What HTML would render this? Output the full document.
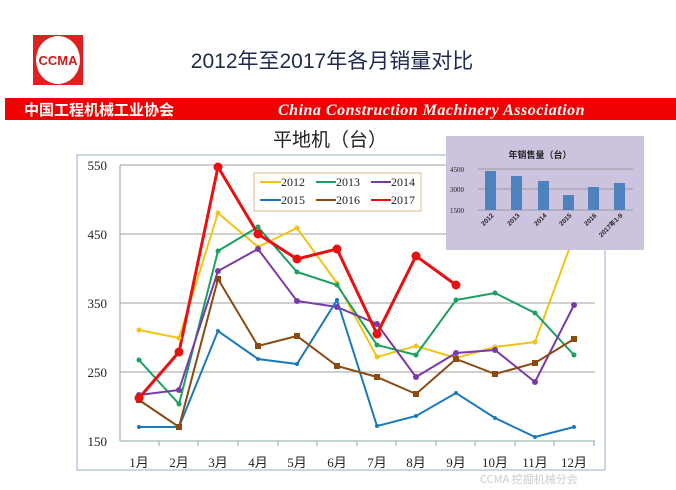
<!DOCTYPE html>
<html><head><meta charset="utf-8"><style>
body{margin:0;width:676px;height:485px;background:#fff;overflow:hidden}
</style></head><body>
<svg width="676" height="485" viewBox="0 0 676 485" xmlns="http://www.w3.org/2000/svg" font-family="Liberation Serif, Noto Serif CJK SC, serif">
<rect x="33" y="35" width="50" height="50" fill="#e02020"/>
<ellipse cx="58" cy="60" rx="22" ry="24" fill="#fff"/>
<text x="58" y="65" font-family="Liberation Sans, sans-serif" font-weight="bold" font-size="13" fill="#d01818" text-anchor="middle">CCMA</text>
<text x="332" y="68" font-family="Liberation Sans, Noto Sans CJK SC, sans-serif" font-size="21" fill="#1f2a50" text-anchor="middle">2012年至2017年各月销量对比</text>
<rect x="5" y="98" width="671" height="22" fill="#f00000"/>
<text x="24" y="115" font-family="Noto Sans CJK SC, sans-serif" font-weight="bold" font-size="15" fill="#fff">中国工程机械工业协会</text>
<text x="278" y="115" font-family="Liberation Serif, serif" font-style="italic" font-weight="bold" font-size="16" fill="#fff" letter-spacing="0.5">China Construction Machinery Association</text>
<text x="330" y="146" font-family="Noto Sans CJK SC, sans-serif" font-size="19" fill="#222" text-anchor="middle">平地机（台）</text>
<rect x="77" y="155" width="528" height="315" fill="#fff" stroke="#b8c8d8" stroke-width="1.5"/>
<g stroke="#a0a0a0" stroke-width="1">
<line x1="120" y1="165" x2="595" y2="165"/><line x1="120" y1="234" x2="595" y2="234"/><line x1="120" y1="303" x2="595" y2="303"/><line x1="120" y1="372" x2="595" y2="372"/>
</g>
<line x1="120" y1="441" x2="595" y2="441" stroke="#8aa" stroke-width="1"/>
<line x1="120" y1="165" x2="120" y2="441" stroke="#8aa" stroke-width="1"/>
<g stroke="#8aa"><line x1="159" y1="441" x2="159" y2="446"/><line x1="198" y1="441" x2="198" y2="446"/><line x1="238" y1="441" x2="238" y2="446"/><line x1="278" y1="441" x2="278" y2="446"/><line x1="317" y1="441" x2="317" y2="446"/><line x1="357" y1="441" x2="357" y2="446"/><line x1="396" y1="441" x2="396" y2="446"/><line x1="436" y1="441" x2="436" y2="446"/><line x1="475" y1="441" x2="475" y2="446"/><line x1="515" y1="441" x2="515" y2="446"/><line x1="554" y1="441" x2="554" y2="446"/><line x1="594" y1="441" x2="594" y2="446"/></g>
<g font-size="13" fill="#222" text-anchor="end"><text x="107" y="170">550</text><text x="107" y="239">450</text><text x="107" y="308">350</text><text x="107" y="377">250</text><text x="107" y="446">150</text></g>
<g font-size="13" fill="#222" text-anchor="middle" font-family="Liberation Serif, Noto Sans CJK SC, serif">
<text x="139" y="467">1月</text><text x="179" y="467">2月</text><text x="218" y="467">3月</text><text x="258" y="467">4月</text><text x="297" y="467">5月</text><text x="337" y="467">6月</text><text x="377" y="467">7月</text><text x="416" y="467">8月</text><text x="456" y="467">9月</text><text x="495" y="467">10月</text><text x="535" y="467">11月</text><text x="574" y="467">12月</text></g>
<g fill="none" stroke-width="2">
<polyline stroke="#f2c314" points="139,330 179,338 218,213 258,247 297,228 337,283 377,357 416,346 456,358 495,347 535,342 574,236"/>
<polyline stroke="#1aa060" points="139,360 179,404 218,251 258,227 297,272 337,285 377,345 416,355 456,300 495,293 535,313 574,355"/>
<polyline stroke="#7a3aa8" points="139,395 179,390 218,271 258,249 297,301 337,307 377,324 416,377 456,353 495,350 535,382 574,305"/>
<polyline stroke="#1a7ab8" points="139,427 179,427 218,331 258,359 297,364 337,300 377,426 416,416 456,393 495,418 535,437 574,427"/>
<polyline stroke="#8a4a10" points="139,400 179,427 218,279 258,346 297,336 337,366 377,377 416,394 456,359 495,374 535,363 574,339"/>
<polyline stroke="#e81010" stroke-width="3" points="139,398 179,352 218,167 258,234 297,259 337,249 377,334 416,256 456,285"/>
</g>
<g fill="#f2c314"><circle cx="139" cy="330" r="2.5"/><circle cx="179" cy="338" r="2.5"/><circle cx="218" cy="213" r="2.5"/><circle cx="258" cy="247" r="2.5"/><circle cx="297" cy="228" r="2.5"/><circle cx="337" cy="283" r="2.5"/><circle cx="377" cy="357" r="2.5"/><circle cx="416" cy="346" r="2.5"/><circle cx="456" cy="358" r="2.5"/><circle cx="495" cy="347" r="2.5"/><circle cx="535" cy="342" r="2.5"/></g>
<g fill="#1a7ab8"><circle cx="139" cy="427" r="2"/><circle cx="179" cy="427" r="2"/><circle cx="218" cy="331" r="2"/><circle cx="258" cy="359" r="2"/><circle cx="297" cy="364" r="2"/><circle cx="337" cy="300" r="2"/><circle cx="377" cy="426" r="2"/><circle cx="416" cy="416" r="2"/><circle cx="456" cy="393" r="2"/><circle cx="495" cy="418" r="2"/><circle cx="535" cy="437" r="2"/><circle cx="574" cy="427" r="2"/></g>
<g fill="#1aa060"><circle cx="139" cy="360" r="2.5"/><circle cx="179" cy="404" r="2.5"/><circle cx="218" cy="251" r="2.5"/><circle cx="258" cy="227" r="2.5"/><circle cx="297" cy="272" r="2.5"/><circle cx="337" cy="285" r="2.5"/><circle cx="377" cy="345" r="2.5"/><circle cx="416" cy="355" r="2.5"/><circle cx="456" cy="300" r="2.5"/><circle cx="495" cy="293" r="2.5"/><circle cx="535" cy="313" r="2.5"/><circle cx="574" cy="355" r="2.5"/></g>
<g fill="#7a3aa8"><circle cx="139" cy="395" r="3"/><circle cx="179" cy="390" r="3"/><circle cx="218" cy="271" r="3"/><circle cx="258" cy="249" r="3"/><circle cx="297" cy="301" r="3"/><circle cx="337" cy="307" r="3"/><circle cx="377" cy="324" r="3"/><circle cx="416" cy="377" r="3"/><circle cx="456" cy="353" r="3"/><circle cx="495" cy="350" r="3"/><circle cx="535" cy="382" r="3"/><circle cx="574" cy="305" r="3"/></g>
<g fill="#8a4a10"><rect x="136" y="397" width="6" height="6"/><rect x="176" y="424" width="6" height="6"/><rect x="215" y="276" width="6" height="6"/><rect x="255" y="343" width="6" height="6"/><rect x="294" y="333" width="6" height="6"/><rect x="334" y="363" width="6" height="6"/><rect x="374" y="374" width="6" height="6"/><rect x="413" y="391" width="6" height="6"/><rect x="453" y="356" width="6" height="6"/><rect x="492" y="371" width="6" height="6"/><rect x="532" y="360" width="6" height="6"/><rect x="571" y="336" width="6" height="6"/></g>
<g fill="#e81010"><circle cx="139" cy="398" r="4.5"/><circle cx="179" cy="352" r="4.5"/><circle cx="218" cy="167" r="4.5"/><circle cx="258" cy="234" r="4.5"/><circle cx="297" cy="259" r="4.5"/><circle cx="337" cy="249" r="4.5"/><circle cx="377" cy="334" r="4.5"/><circle cx="416" cy="256" r="4.5"/><circle cx="456" cy="285" r="4.5"/></g>
<rect x="254" y="173" width="167" height="38" fill="#fff" stroke="#d8b890" stroke-width="1"/>
<g stroke-width="2"><line x1="260" y1="182" x2="281" y2="182" stroke="#f2c314"/><line x1="316" y1="182" x2="336" y2="182" stroke="#1aa060"/><line x1="371" y1="182" x2="391" y2="182" stroke="#7a3aa8"/><line x1="260" y1="200" x2="281" y2="200" stroke="#1a7ab8"/><line x1="316" y1="200" x2="336" y2="200" stroke="#8a4a10"/><line x1="371" y1="200" x2="391" y2="200" stroke="#e81010"/></g>
<g font-size="12" fill="#222"><text x="281" y="186">2012</text><text x="336" y="186">2013</text><text x="391" y="186">2014</text><text x="281" y="204">2015</text><text x="336" y="204">2016</text><text x="391" y="204">2017</text></g>
<rect x="446" y="136" width="198" height="114" fill="#ccc4de"/>
<text x="540" y="158" font-family="Noto Sans CJK SC, sans-serif" font-weight="bold" font-size="9" fill="#222" text-anchor="middle">年销售量（台）</text>
<g stroke="#888" stroke-width="0.8"><line x1="478" y1="169" x2="633" y2="169"/><line x1="478" y1="189" x2="633" y2="189"/><line x1="478" y1="210" x2="633" y2="210"/></g>
<g font-size="7" fill="#222"><text x="450" y="172">4500</text><text x="450" y="192">3000</text><text x="450" y="213">1500</text></g>
<g fill="#4f81bd"><rect x="485" y="171" width="11" height="39"/><rect x="511" y="176" width="11" height="34"/><rect x="538" y="181" width="11" height="29"/><rect x="563" y="195" width="11" height="15"/><rect x="588" y="187" width="11" height="23"/><rect x="614" y="183" width="11" height="27"/></g>
<g font-size="6.5" font-weight="bold" fill="#222" text-anchor="end" font-family="Liberation Sans, Noto Sans CJK SC, sans-serif">
<text transform="translate(494,216) rotate(-45)">2012</text><text transform="translate(520,216) rotate(-45)">2013</text><text transform="translate(547,216) rotate(-45)">2014</text><text transform="translate(572,216) rotate(-45)">2015</text><text transform="translate(597,216) rotate(-45)">2016</text><text transform="translate(623,216) rotate(-45)">2017年1-9</text></g>
<text x="480" y="483" font-size="11" fill="#ccc" font-family="Noto Sans CJK SC, sans-serif">CCMA 挖掘机械分会</text>
</svg>
</body></html>
